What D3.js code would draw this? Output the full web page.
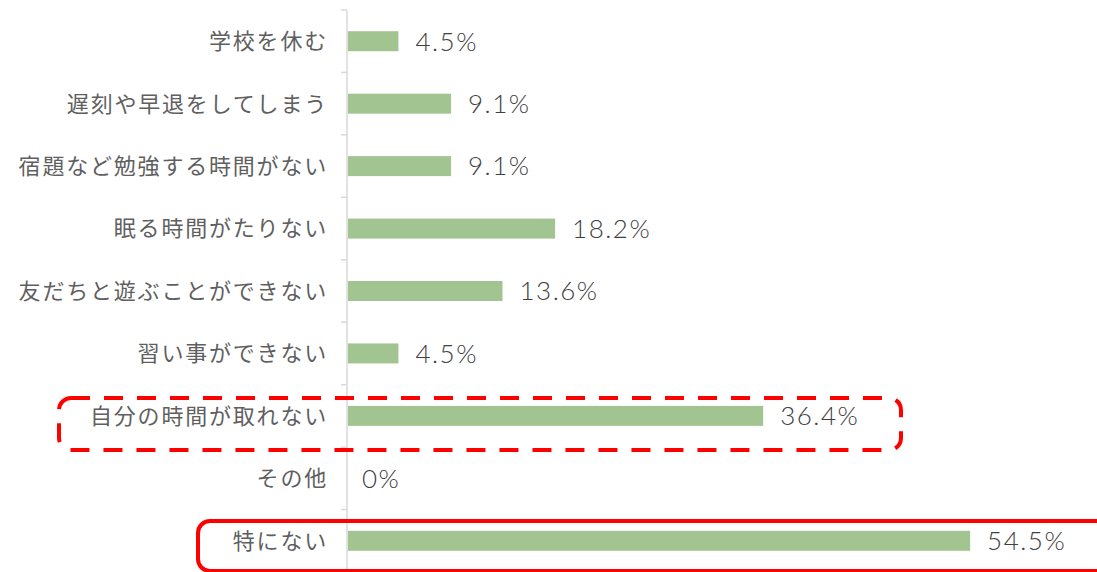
<!DOCTYPE html>
<html>
<head>
<meta charset="utf-8">
<script src="https://cdn.jsdelivr.net/npm/d3@7"></script>
<style>
  html, body { margin: 0; padding: 0; background: #fff; }
  svg { display: block; }
</style>
</head>
<body>
<script>
// 困っていること（回答割合）
const categories = [
  "学校を休む",
  "遅刻や早退をしてしまう",
  "宿題など勉強する時間がない",
  "眠る時間がたりない",
  "友だちと遊ぶことができない",
  "習い事ができない",
  "自分の時間が取れない",
  "その他",
  "特にない"
];
const values = [4.5, 9.1, 9.1, 18.2, 13.6, 4.5, 36.4, 0, 54.5];
const valueLabels = ["4.5%", "9.1%", "9.1%", "18.2%", "13.6%", "4.5%", "36.4%", "0%", "54.5%"];

const width = 1097, height = 572;
const axisX = 347;

const svg = d3.select("body").append("svg")
    .attr("width", width)
    .attr("height", height);

const y = d3.scaleBand()
    .domain(categories)
    .range([10, 572])
    .paddingInner(0.68)
    .paddingOuter(0.34);

const x = d3.scaleLinear()
    .domain([0, 60])
    .range([axisX, axisX + 686]);

// category boundary ticks + axis line
const step = y.step();
const bounds = d3.range(categories.length + 1).map(i => 10 + i * step);

svg.append("g")
    .attr("stroke", "#d9d9d9")
    .attr("stroke-width", 1.5)
  .selectAll("line")
  .data(bounds)
  .join("line")
    .attr("x1", axisX - 6)
    .attr("x2", axisX)
    .attr("y1", d => d)
    .attr("y2", d => d);

svg.append("line")
    .attr("x1", axisX).attr("x2", axisX)
    .attr("y1", 10).attr("y2", height)
    .attr("stroke", "#d9d9d9")
    .attr("stroke-width", 1.5);

svg.append("g")
    .attr("fill", "#a1c490")
  .selectAll("rect")
  .data(values)
  .join("rect")
    .attr("x", x(0) + 1)
    .attr("y", (d, i) => y(categories[i]))
    .attr("width", d => Math.max(0, x(d) - x(0) - 1))
    .attr("height", y.bandwidth());

svg.append("g")
    .attr("font-family", "'Noto Sans CJK JP', sans-serif")
    .attr("font-size", 22)
    .attr("letter-spacing", 1.8)
    .attr("fill", "#5f5f5f")
    .attr("text-anchor", "end")
  .selectAll("text")
  .data(categories)
  .join("text")
    .attr("x", axisX - 19)
    .attr("y", d => y(d) + y.bandwidth() / 2)
    .attr("dy", "0.36em")
    .text(d => d);

svg.append("g")
    .attr("font-family", "Lato, 'DejaVu Sans', sans-serif")
    .attr("font-weight", 300)
    .attr("font-size", 26)
    .attr("letter-spacing", 1.5)
    .attr("fill", "#404040")
  .selectAll("text")
  .data(values)
  .join("text")
    .attr("x", d => x(d) + (d > 0 ? 17 : 15))
    .attr("y", (d, i) => y(categories[i]) + y.bandwidth() / 2)
    .attr("dy", "0.36em")
    .text((d, i) => valueLabels[i]);

// highlight boxes
svg.append("rect")
    .attr("x", 59).attr("y", 398)
    .attr("width", 842).attr("height", 52)
    .attr("rx", 12)
    .attr("fill", "none")
    .attr("stroke", "#ff0000")
    .attr("stroke-width", 4)
    .attr("stroke-dasharray", "19 14");

svg.append("rect")
    .attr("x", 198).attr("y", 521)
    .attr("width", 940).attr("height", 50)
    .attr("rx", 12)
    .attr("fill", "none")
    .attr("stroke", "#ff0000")
    .attr("stroke-width", 4);
</script>
</body>
</html>
